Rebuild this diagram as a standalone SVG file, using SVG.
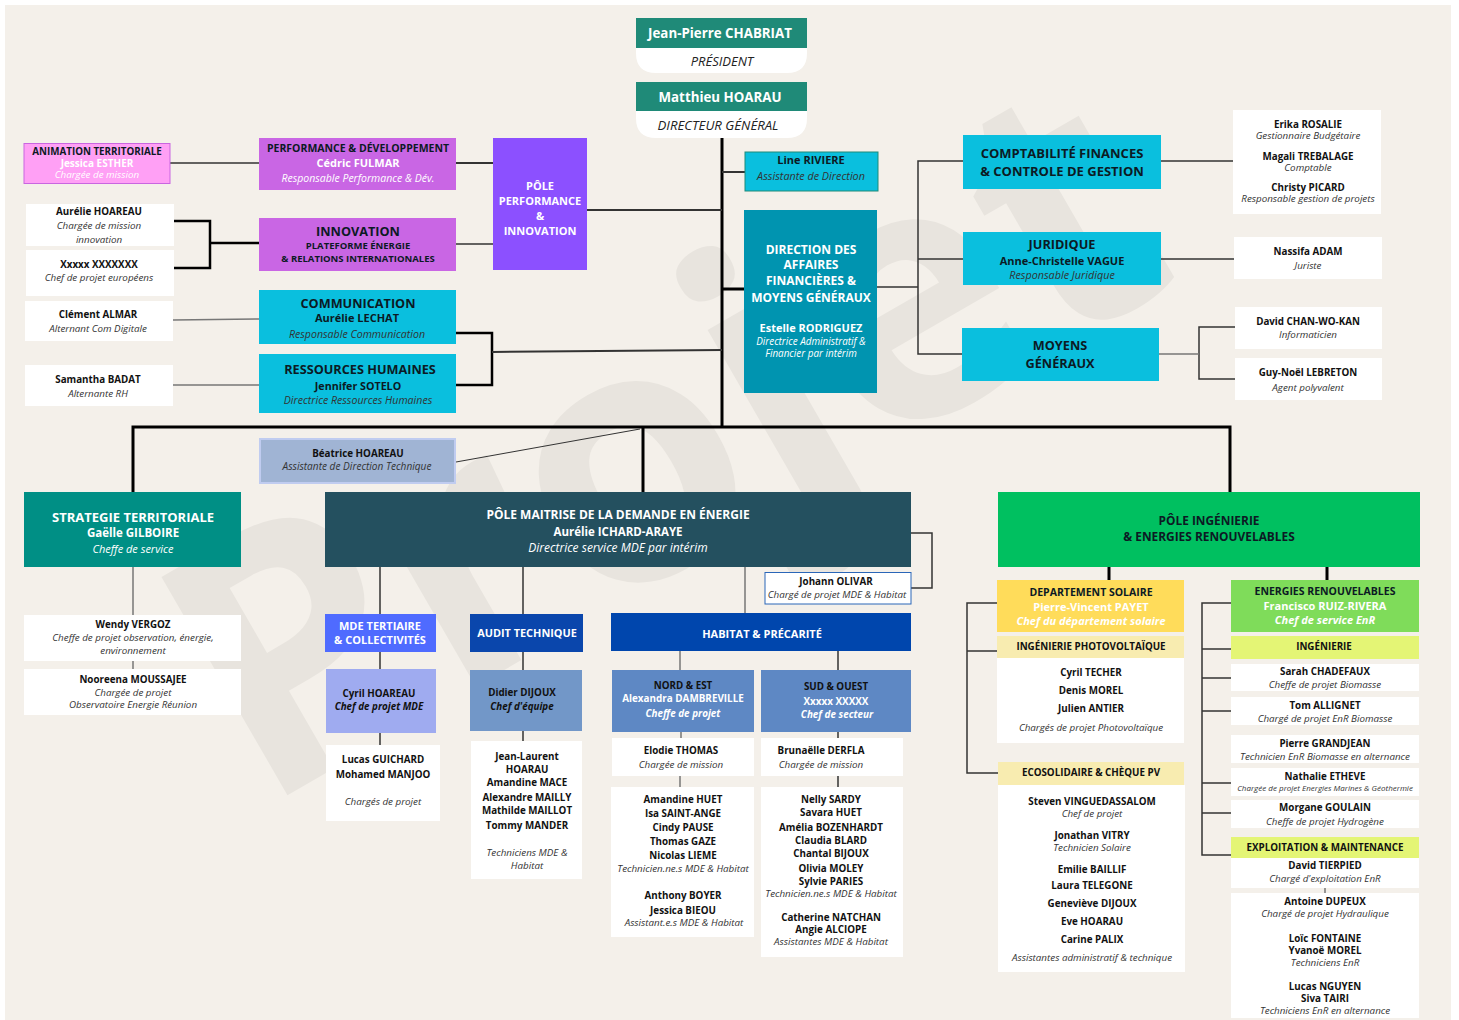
<svg xmlns="http://www.w3.org/2000/svg" width="1459" height="1020" viewBox="0 0 1459 1020">
<style>
text{font-family:"Open Sans","Noto Sans","Liberation Sans",sans-serif;text-anchor:middle}
.n{font-weight:700;font-size:9.8px;fill:#111}
.r{font-style:italic;font-size:9.8px;fill:#333}
.t{font-weight:700;font-size:12.700px;fill:#0c1a24}
.s{font-weight:700;font-size:10.5px;fill:#0c1a24}
.w{fill:#fff}
.wb{font-weight:700;fill:#fff;font-size:11px}
.wi{font-style:italic;fill:#fff;font-size:10.5px}
.c{fill:none;stroke:#333;stroke-width:1.5}
.k{fill:none;stroke:#000;stroke-width:3}
.g{fill:none;stroke:#777;stroke-width:1.5}
</style>
<rect width="1459" height="1020" fill="#fff"/>
<rect x="5" y="5" width="1446" height="1015" fill="#f4f0ea"/>
<text transform="translate(260,811) rotate(-30)" style="text-anchor:start;font-weight:700;font-size:353px;fill:#e8e4de">Projet</text>

<g id="connectors">
<path class="k" d="M722 138V427M133 492V427H1230V492M643 427V492M722 289H744M1109 567V580M1327 567V580"/>
<path class="k" d="M174 221H210V268H174M210 243H259M456 333H492V385H456" style="stroke-width:2.5"/>
<path class="c" style="stroke-width:2" d="M456 163H493M587 210H722M492 352L722 350M722 172H745"/>
<path class="c" d="M170 163H259M456 244H493M877 287H918M963 161H918V354H962M918 259H963M1161 161H1233M1161 259H1234M1235 327H1199V379H1235M380 567V614M523 567V614M911 533H932V588H911M380 652V669M523 652V670M380 733V745M523 731V741M838 651V670M838 732V738M838 776V787M997 603H967V773H998M967 651H997M1231 603H1202V855H1231M1202 649H1231M1202 678H1231M1202 711H1231M1202 783H1231M1202 813H1231"/>
<path class="g" d="M173 320L259 319M173 385H259M1159 354H1199M133 567V615M133 661V669M745 567V613M680 651V670M681 732V738M680 776V787M1325 888V893"/>
<path class="c" style="stroke-width:1" d="M456 462L640 429"/>
</g>

<g id="president"><path d="M636 48H807V53Q807 73 787 73H656Q636 73 636 53Z" fill="#fff"/><rect x="636" y="18" width="171" height="30" fill="#1f8a78"/><text x="720" y="38" class="wb" style="font-size:13.300px">Jean-Pierre CHABRIAT</text><text x="722" y="66" style="font-style:italic;font-size:13px;fill:#222">PRÉSIDENT</text></g>
<g id="directeur"><path d="M636 111H807V118Q807 138 787 138H656Q636 138 636 118Z" fill="#fff"/><rect x="636" y="82" width="171" height="29" fill="#1f8a78"/><text x="720" y="102" class="wb" style="font-size:13.300px">Matthieu HOARAU</text><text x="718" y="130" style="font-style:italic;font-size:13.200px;fill:#222">DIRECTEUR GÉNÉRAL</text></g>

<g id="animation"><rect x="24" y="143.500" width="146" height="40" fill="#ffa0f5" stroke="#c966e0"/><text x="97" y="155" class="s" style="font-size:9.800px">ANIMATION TERRITORIALE</text><text x="97" y="167" class="wb" style="font-size:10px">Jessica ESTHER</text><text x="97" y="178" class="wi" style="font-size:9.800px">Chargée de mission</text></g>
<g id="perf"><rect x="259" y="138" width="197" height="52" fill="#c966e4"/><text x="358" y="152" class="s">PERFORMANCE &amp; DÉVELOPPEMENT</text><text x="358" y="167" class="wb">Cédric FULMAR</text><text x="358" y="182" class="wi">Responsable Performance &amp; Dév.</text></g>
<g id="innovation"><rect x="259" y="218" width="197" height="53" fill="#c966e4"/><text x="358" y="236" class="t">INNOVATION</text><text x="358" y="249" class="s" style="font-size:9.500px">PLATEFORME ÉNERGIE</text><text x="358" y="262" class="s" style="font-size:9.500px">&amp; RELATIONS INTERNATIONALES</text></g>
<g id="pole-perf"><rect x="493" y="138" width="94" height="132" fill="#8c50ff"/><text x="540" y="190" class="wb">PÔLE</text><text x="540" y="205" class="wb">PERFORMANCE</text><text x="540" y="220" class="wb">&amp;</text><text x="540" y="235" class="wb">INNOVATION</text></g>
<g id="comm"><rect x="259" y="290" width="197" height="54" fill="#0abfde"/><text x="358" y="308" class="t">COMMUNICATION</text><text x="357" y="322" class="t" style="font-size:11px">Aurélie LECHAT</text><text x="357" y="338" class="r" style="font-size:10.600px">Responsable Communication</text></g>
<g id="rh"><rect x="259" y="354" width="197" height="59" fill="#0abfde"/><text x="360" y="374" class="t">RESSOURCES HUMAINES</text><text x="358" y="390" class="t" style="font-size:10.700px">Jennifer SOTELO</text><text x="358" y="404" class="r" style="font-size:10.600px">Directrice Ressources Humaines</text></g>
<g id="beatrice"><rect x="260" y="439" width="195" height="44" fill="#a0b4d4" stroke="#c0ccf0" stroke-width="2"/><text x="358" y="457" class="n">Béatrice HOAREAU</text><text x="357" y="470" class="r" style="font-size:10.100px">Assistante de Direction Technique</text></g>

<g id="aurelie"><rect x="26" y="204" width="148" height="42" fill="#fff"/><text x="99" y="215" class="n">Aurélie HOAREAU</text><text x="99" y="229" class="r">Chargée de mission</text><text x="99" y="243" class="r">innovation</text></g>
<g id="xxxxx"><rect x="26" y="250" width="148" height="46" fill="#fff"/><text x="99" y="268" class="n">Xxxxx XXXXXXX</text><text x="99" y="281" class="r">Chef de projet européens</text></g>
<g id="clement"><rect x="25" y="301" width="148" height="40" fill="#fff"/><text x="98" y="318" class="n">Clément ALMAR</text><text x="98" y="332" class="r">Alternant Com Digitale</text></g>
<g id="samantha"><rect x="25" y="365" width="148" height="41" fill="#fff"/><text x="98" y="383" class="n">Samantha BADAT</text><text x="98" y="397" class="r">Alternante RH</text></g>

<g id="line"><rect x="745" y="152" width="133" height="39" fill="#0abfde" stroke="#1f8a78"/><text x="811" y="164" class="s" style="font-size:11px">Line RIVIERE</text><text x="811" y="180" class="r" style="font-size:10.800px">Assistante de Direction</text></g>
<g id="direction"><rect x="744" y="210" width="133" height="183" fill="#0094b0"/><text x="811" y="254" class="wb" style="font-size:12px">DIRECTION DES</text><text x="811" y="269" class="wb" style="font-size:12px">AFFAIRES</text><text x="811" y="285" class="wb" style="font-size:12px">FINANCIÈRES &amp;</text><text x="811" y="302" class="wb" style="font-size:12px">MOYENS GÉNÉRAUX</text><text x="811" y="332" class="wb">Estelle RODRIGUEZ</text><text x="811" y="345" class="wi" style="font-size:9.900px">Directrice Administratif &amp;</text><text x="811" y="357" class="wi" style="font-size:9.900px">Financier par intérim</text></g>
<g id="compta"><rect x="963" y="135" width="198" height="54" fill="#0abfde"/><text x="1062" y="158" class="t" style="font-size:13px">COMPTABILITÉ FINANCES</text><text x="1062" y="176" class="t" style="font-size:13px">&amp; CONTROLE DE GESTION</text></g>
<g id="juridique"><rect x="963" y="232" width="198" height="53" fill="#0abfde"/><text x="1062" y="249" class="t">JURIDIQUE</text><text x="1062" y="265" class="t" style="font-size:11px">Anne-Christelle VAGUE</text><text x="1062" y="279" class="r" style="font-size:10.800px">Responsable Juridique</text></g>
<g id="moyens"><rect x="962" y="328" width="197" height="53" fill="#0abfde"/><text x="1060" y="350" class="t">MOYENS</text><text x="1060" y="368" class="t">GÉNÉRAUX</text></g>
<g id="compta-staff"><rect x="1233" y="110" width="148" height="104" fill="#fff"/><text x="1308" y="128" class="n">Erika ROSALIE</text><text x="1308" y="138.500" class="r">Gestionnaire Budgétaire</text><text x="1308" y="159.500" class="n">Magali TREBALAGE</text><text x="1308" y="170.500" class="r">Comptable</text><text x="1308" y="191" class="n">Christy PICARD</text><text x="1308" y="202" class="r">Responsable gestion de projets</text></g>
<g id="nassifa"><rect x="1234" y="237" width="148" height="42" fill="#fff"/><text x="1308" y="255" class="n">Nassifa ADAM</text><text x="1308" y="269" class="r">Juriste</text></g>
<g id="david-c"><rect x="1235" y="307" width="147" height="42" fill="#fff"/><text x="1308" y="325" class="n">David CHAN-WO-KAN</text><text x="1308" y="338" class="r">Informaticien</text></g>
<g id="guy"><rect x="1235" y="358" width="147" height="42" fill="#fff"/><text x="1308" y="376" class="n">Guy-Noël LEBRETON</text><text x="1308" y="391" class="r">Agent polyvalent</text></g>

<g id="strategie"><rect x="24" y="492" width="217" height="75" fill="#008f85"/><text x="133" y="522" class="wb" style="font-size:13px">STRATEGIE TERRITORIALE</text><text x="133" y="537" class="wb" style="font-size:11.500px">Gaëlle GILBOIRE</text><text x="133" y="553" class="wi" style="font-size:11px">Cheffe de service</text></g>
<g id="pole-mde"><rect x="325" y="492" width="586" height="75" fill="#24505f"/><text x="618" y="519" class="wb" style="font-size:12px">PÔLE MAITRISE DE LA DEMANDE EN ÉNERGIE</text><text x="618" y="536" class="wb" style="font-size:11.500px">Aurélie ICHARD-ARAYE</text><text x="618" y="552" class="wi" style="font-size:12px">Directrice service MDE par intérim</text></g>
<g id="pole-ing"><rect x="998" y="492" width="422" height="75" fill="#00c060"/><text x="1209" y="525" class="s" style="font-size:11.900px">PÔLE INGÉNIERIE</text><text x="1209" y="541" class="s" style="font-size:11.900px">&amp; ENERGIES RENOUVELABLES</text></g>
<g id="wendy"><rect x="24" y="615" width="217" height="46" fill="#fff"/><text x="133" y="628" class="n">Wendy VERGOZ</text><text x="133" y="641" class="r">Cheffe de projet observation, énergie,</text><text x="133" y="654" class="r">environnement</text></g>
<g id="nooreena"><rect x="24" y="669" width="217" height="46" fill="#fff"/><text x="133" y="683" class="n">Nooreena MOUSSAJEE</text><text x="133" y="696" class="r">Chargée de projet</text><text x="133" y="708" class="r">Observatoire Energie Réunion</text></g>

<g id="mde-tert"><rect x="325" y="614" width="111" height="38" fill="#4f6bff"/><text x="380" y="630" class="wb">MDE TERTIAIRE</text><text x="380" y="644" class="wb">&amp; COLLECTIVITÉS</text></g>
<g id="audit"><rect x="470" y="614" width="113" height="38" fill="#0a46ac"/><text x="527" y="637" class="wb" style="font-size:10.900px">AUDIT TECHNIQUE</text></g>
<g id="cyril"><rect x="326" y="669" width="110" height="64" fill="#9fabf0"/><text x="379" y="697" class="n">Cyril HOAREAU</text><text x="379" y="710" class="n" style="font-style:italic">Chef de projet MDE</text></g>
<g id="didier"><rect x="470" y="670" width="112" height="61" fill="#7297c8"/><text x="522" y="696" class="n">Didier DIJOUX</text><text x="522" y="710" class="n" style="font-style:italic">Chef d'équipe</text></g>
<g id="lucas"><rect x="326" y="745" width="114" height="76" fill="#fff"/><text x="383" y="763" class="n">Lucas GUICHARD</text><text x="383" y="778" class="n">Mohamed MANJOO</text><text x="383" y="805" class="r">Chargés de projet</text></g>
<g id="jean-l"><rect x="471" y="741" width="111" height="138" fill="#fff"/><text x="527" y="760" class="n">Jean-Laurent</text><text x="527" y="773" class="n">HOARAU</text><text x="527" y="786" class="n">Amandine MACE</text><text x="527" y="801" class="n">Alexandre MAILLY</text><text x="527" y="814" class="n">Mathilde MAILLOT</text><text x="527" y="829" class="n">Tommy MANDER</text><text x="527" y="856" class="r">Techniciens MDE &amp;</text><text x="527" y="869" class="r">Habitat</text></g>

<g id="johann"><rect x="765" y="572.500" width="146" height="31.500" fill="#fff" stroke="#2a66b8"/><text x="836" y="585" class="n">Johann OLIVAR</text><text x="837" y="598" class="r">Chargé de projet MDE &amp; Habitat</text></g>
<g id="habitat"><rect x="611" y="613" width="300" height="38" fill="#0046ad"/><text x="762" y="638" class="wb">HABITAT &amp; PRÉCARITÉ</text></g>
<g id="nord"><rect x="612" y="670" width="142" height="62" fill="#5e88c4"/><text x="683" y="689" class="n">NORD &amp; EST</text><text x="683" y="702" class="wb" style="font-size:9.900px">Alexandra DAMBREVILLE</text><text x="683" y="717" class="wb" style="font-size:9.900px;font-style:italic">Cheffe de projet</text></g>
<g id="sud"><rect x="761" y="670" width="150" height="62" fill="#5e88c4"/><text x="836" y="690" class="n">SUD &amp; OUEST</text><text x="836" y="705" class="wb" style="font-size:9.900px">Xxxxx XXXXX</text><text x="837" y="718" class="wb" style="font-size:9.900px;font-style:italic">Chef de secteur</text></g>
<g id="elodie"><rect x="612" y="738" width="142" height="38" fill="#fff"/><text x="681" y="754" class="n">Elodie THOMAS</text><text x="681" y="768" class="r">Chargée de mission</text></g>
<g id="brunaelle"><rect x="761" y="738" width="142" height="38" fill="#fff"/><text x="821" y="754" class="n">Brunaëlle DERFLA</text><text x="821" y="768" class="r">Chargée de mission</text></g>
<g id="amandine"><rect x="611" y="787" width="143" height="150" fill="#fff"/><text x="683" y="803" class="n">Amandine HUET</text><text x="683" y="817" class="n">Isa SAINT-ANGE</text><text x="683" y="831" class="n">Cindy PAUSE</text><text x="683" y="845" class="n">Thomas GAZE</text><text x="683" y="859" class="n">Nicolas LIEME</text><text x="683" y="872" class="r">Technicien.ne.s MDE &amp; Habitat</text><text x="683" y="899" class="n">Anthony BOYER</text><text x="683" y="914" class="n">Jessica BIEOU</text><text x="684" y="926" class="r">Assistant.e.s MDE &amp; Habitat</text></g>
<g id="nelly"><rect x="761" y="787" width="142" height="170" fill="#fff"/><text x="831" y="803" class="n">Nelly SARDY</text><text x="831" y="816" class="n">Savara HUET</text><text x="831" y="831" class="n">Amélia BOZENHARDT</text><text x="831" y="844" class="n">Claudia BLARD</text><text x="831" y="857" class="n">Chantal BIJOUX</text><text x="831" y="872" class="n">Olivia MOLEY</text><text x="831" y="885" class="n">Sylvie PARIES</text><text x="831" y="896.500" class="r">Technicien.ne.s MDE &amp; Habitat</text><text x="831" y="921" class="n">Catherine NATCHAN</text><text x="831" y="933" class="n">Angie ALCIOPE</text><text x="831" y="945" class="r">Assistantes MDE &amp; Habitat</text></g>

<g id="solaire"><rect x="997" y="580" width="187" height="52" fill="#ffdc5a"/><text x="1091" y="596" class="s">DEPARTEMENT SOLAIRE</text><text x="1091" y="611" class="wb">Pierre-Vincent PAYET</text><text x="1091" y="625" class="wb" style="font-style:italic">Chef du département solaire</text></g>
<g id="pv"><rect x="997" y="636" width="187" height="22" fill="#f8ecb0"/><rect x="997" y="658" width="187" height="85" fill="#fff"/><text x="1091" y="650" class="n">INGÉNIERIE PHOTOVOLTAÏQUE</text><text x="1091" y="676" class="n">Cyril TECHER</text><text x="1091" y="694" class="n">Denis MOREL</text><text x="1091" y="712" class="n">Julien ANTIER</text><text x="1091" y="731" class="r">Chargés de projet Photovoltaïque</text></g>
<g id="eco"><rect x="998" y="762" width="186" height="23" fill="#f8ecb0"/><rect x="998" y="785" width="187" height="187" fill="#fff"/><text x="1091" y="776" class="n">ECOSOLIDAIRE &amp; CHÈQUE PV</text><text x="1092" y="805" class="n">Steven VINGUEDASSALOM</text><text x="1092" y="816.500" class="r">Chef de projet</text><text x="1092" y="839" class="n">Jonathan VITRY</text><text x="1092" y="850.500" class="r">Technicien Solaire</text><text x="1092" y="873" class="n">Emilie BAILLIF</text><text x="1092" y="889" class="n">Laura TELEGONE</text><text x="1092" y="907" class="n">Geneviève DIJOUX</text><text x="1092" y="925" class="n">Eve HOARAU</text><text x="1092" y="943" class="n">Carine PALIX</text><text x="1092" y="961" class="r">Assistantes administratif &amp; technique</text></g>
<g id="enr"><rect x="1231" y="580" width="188" height="52" fill="#7fdc5a"/><text x="1325" y="595" class="s">ENERGIES RENOUVELABLES</text><text x="1325" y="610" class="wb">Francisco RUIZ-RIVERA</text><text x="1325" y="624" class="wb" style="font-style:italic">Chef de service EnR</text></g>
<g id="ingenierie"><rect x="1231" y="636" width="188" height="23" fill="#e4f575"/><text x="1324" y="650" class="n">INGÉNIERIE</text></g>
<g id="sarah"><rect x="1231" y="664" width="188" height="27" fill="#fff"/><text x="1325" y="675" class="n">Sarah CHADEFAUX</text><text x="1325" y="688" class="r">Cheffe de projet Biomasse</text></g>
<g id="tom"><rect x="1231" y="697" width="188" height="28" fill="#fff"/><text x="1325" y="709" class="n">Tom ALLIGNET</text><text x="1325" y="722" class="r">Chargé de projet EnR Biomasse</text></g>
<g id="pierre"><rect x="1231" y="735" width="188" height="28" fill="#fff"/><text x="1325" y="747" class="n">Pierre GRANDJEAN</text><text x="1325" y="760" class="r">Technicien EnR Biomasse en alternance</text></g>
<g id="nathalie"><rect x="1231" y="768" width="188" height="28" fill="#fff"/><text x="1325" y="780" class="n">Nathalie ETHEVE</text><text x="1325" y="791" class="r" style="font-size:8px">Chargée de projet Energies Marines &amp; Géothermie</text></g>
<g id="morgane"><rect x="1231" y="800" width="188" height="28" fill="#fff"/><text x="1325" y="811" class="n">Morgane GOULAIN</text><text x="1325" y="825" class="r">Cheffe de projet Hydrogène</text></g>
<g id="exploit"><rect x="1231" y="837" width="188" height="21" fill="#e4f575"/><text x="1325" y="851" class="n">EXPLOITATION &amp; MAINTENANCE</text></g>
<g id="david-t"><rect x="1231" y="858" width="188" height="30" fill="#fff"/><text x="1325" y="869" class="n">David TIERPIED</text><text x="1325" y="882" class="r">Chargé d'exploitation EnR</text></g>
<g id="antoine"><rect x="1231" y="893" width="188" height="125" fill="#fff"/><text x="1325" y="905" class="n">Antoine DUPEUX</text><text x="1325" y="917" class="r">Chargé de projet Hydraulique</text><text x="1325" y="942" class="n">Loïc FONTAINE</text><text x="1325" y="954" class="n">Yvanoë MOREL</text><text x="1325" y="966" class="r">Techniciens EnR</text><text x="1325" y="990" class="n">Lucas NGUYEN</text><text x="1325" y="1002" class="n">Siva TAIRI</text><text x="1325" y="1014" class="r">Techniciens EnR en alternance</text></g>
</svg>
